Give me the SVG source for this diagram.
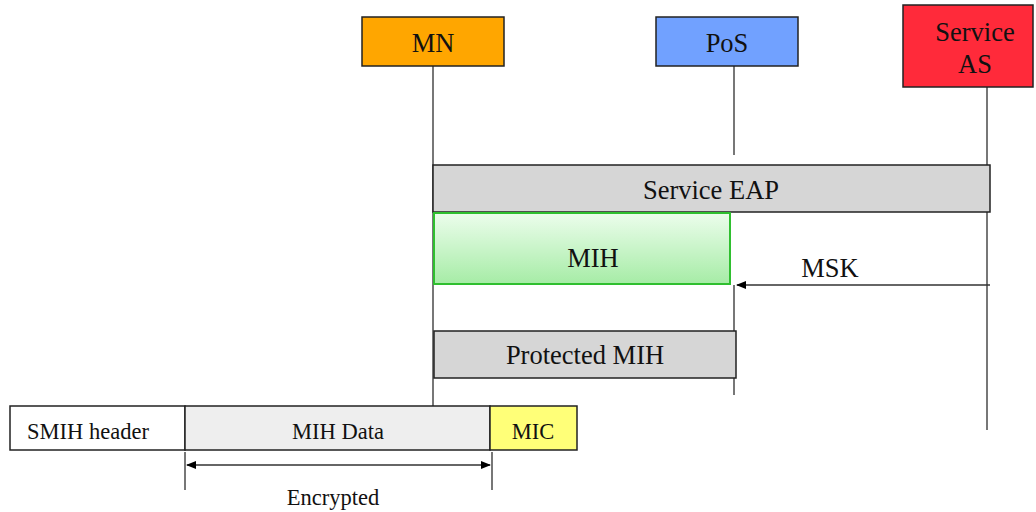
<svg xmlns="http://www.w3.org/2000/svg" width="1036" height="512" viewBox="0 0 1036 512">
<defs>
<linearGradient id="gmih" x1="0" y1="0" x2="0" y2="1">
<stop offset="0" stop-color="#ecfdec"/>
<stop offset="1" stop-color="#a6eca6"/>
</linearGradient>
<marker id="ah" viewBox="0 0 10 10" refX="9" refY="5" markerWidth="10" markerHeight="10" markerUnits="userSpaceOnUse" orient="auto-start-reverse">
<path d="M0,1 L10,5 L0,9 z" fill="#000"/>
</marker>
<style>
text{font-family:"Liberation Serif","Times New Roman",serif;fill:#111;text-anchor:middle}
.big{font-size:26.5px}
.sm{font-size:22.5px}
.box{stroke:#222;stroke-width:1.5}
.life{stroke:#555;stroke-width:1.6;fill:none}
.conn{stroke:#333;stroke-width:1.6;fill:none}
</style>
</defs>
<g id="connectors">
<line class="life" x1="433" y1="66" x2="433" y2="406"/>
<line class="life" x1="734" y1="62" x2="734" y2="155"/>
<line class="life" x1="734" y1="285" x2="734" y2="395"/>
<line class="life" x1="987" y1="87" x2="987" y2="430"/>
<line class="conn" x1="990" y1="285" x2="737" y2="285" marker-end="url(#ah)"/>
<line class="life" x1="185" y1="452" x2="185" y2="490"/>
<line class="life" x1="492" y1="452" x2="492" y2="490"/>
<line class="conn" x1="187" y1="465" x2="490" y2="465" marker-start="url(#ah)" marker-end="url(#ah)"/>
</g>
<g id="mn">
<rect class="box" x="362" y="17" width="142" height="49" fill="#ffa600"/>
<text class="big" x="433" y="52">MN</text>
</g>
<g id="pos">
<rect class="box" x="656" y="17" width="142" height="49" fill="#71a1ff"/>
<text class="big" x="727" y="52">PoS</text>
</g>
<g id="service-as">
<rect class="box" x="903" y="5" width="130" height="82" fill="#ff2a3a"/>
<text class="big" x="975" y="41">Service</text>
<text class="big" x="975" y="73">AS</text>
</g>
<g id="service-eap">
<rect class="box" x="433" y="165" width="557" height="47" fill="#d6d6d6"/>
<text class="big" x="711" y="199">Service EAP</text>
</g>
<g id="mih">
<rect x="434" y="213" width="296" height="71" fill="url(#gmih)" stroke="#2fbf2f" stroke-width="2"/>
<text class="big" x="593" y="267">MIH</text>
</g>
<g id="msk">
<text class="big" x="830" y="277">MSK</text>
</g>
<g id="protected-mih">
<rect class="box" x="434" y="331" width="302" height="47" fill="#d6d6d6"/>
<text class="big" x="585" y="364">Protected MIH</text>
</g>
<g id="smih-header">
<rect class="box" x="10" y="406" width="175" height="44" fill="#ffffff"/>
<text class="sm" x="88" y="439">SMIH header</text>
</g>
<g id="mih-data">
<rect class="box" x="185" y="406" width="305" height="44" fill="#eeeeee"/>
<text class="sm" x="338" y="439">MIH Data</text>
</g>
<g id="mic">
<rect class="box" x="490" y="406" width="87" height="44" fill="#ffff78"/>
<text class="sm" x="533" y="439">MIC</text>
</g>
<g id="encrypted">
<text class="sm" x="333" y="505">Encrypted</text>
</g>
</svg>
